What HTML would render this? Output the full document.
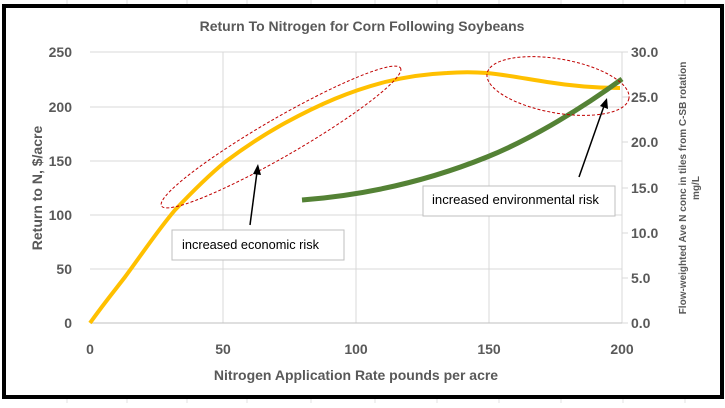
<!DOCTYPE html>
<html><head><style>
body{margin:0;width:725px;height:403px;overflow:hidden;background:#fff;font-family:"Liberation Sans",sans-serif}
</style></head><body>
<svg width="725" height="403" viewBox="0 0 725 403" xmlns="http://www.w3.org/2000/svg">
<g stroke="#e2e2e2" stroke-width="1">
<line x1="67" y1="0" x2="67" y2="403"/><line x1="127" y1="0" x2="127" y2="403"/><line x1="187" y1="0" x2="187" y2="403"/><line x1="247" y1="0" x2="247" y2="403"/><line x1="311" y1="0" x2="311" y2="403"/><line x1="375" y1="0" x2="375" y2="403"/><line x1="437" y1="0" x2="437" y2="403"/><line x1="499" y1="0" x2="499" y2="403"/><line x1="561" y1="0" x2="561" y2="403"/><line x1="623" y1="0" x2="623" y2="403"/><line x1="685" y1="0" x2="685" y2="403"/>
</g>
<rect x="4" y="6" width="718" height="391" fill="#fff" stroke="#000" stroke-width="4"/>
<text x="362" y="31" text-anchor="middle" font-size="14" font-weight="bold" fill="#595959">Return To Nitrogen for Corn Following Soybeans</text>
<g stroke="#d9d9d9" stroke-width="1">
<line x1="90" y1="52" x2="622" y2="52"/><line x1="90" y1="107" x2="622" y2="107"/><line x1="90" y1="161" x2="622" y2="161"/><line x1="90" y1="215" x2="622" y2="215"/><line x1="90" y1="269" x2="622" y2="269"/>
<line x1="223" y1="52" x2="223" y2="323"/><line x1="356" y1="52" x2="356" y2="323"/><line x1="489" y1="52" x2="489" y2="323"/><line x1="622" y1="52" x2="622" y2="323"/>
<line x1="90" y1="323" x2="622" y2="323" stroke="#bfbfbf"/>
<line x1="622" y1="52" x2="628" y2="52"/><line x1="622" y1="97" x2="628" y2="97"/><line x1="622" y1="142" x2="628" y2="142"/><line x1="622" y1="188" x2="628" y2="188"/><line x1="622" y1="233" x2="628" y2="233"/><line x1="622" y1="278" x2="628" y2="278"/><line x1="622" y1="323" x2="628" y2="323"/>
</g>
<g font-size="14" font-weight="bold" fill="#595959" text-anchor="end">
<text x="72" y="57">250</text><text x="72" y="112">200</text><text x="72" y="166">150</text><text x="72" y="220">100</text><text x="72" y="274">50</text><text x="72" y="328">0</text>
</g>
<g font-size="14" font-weight="bold" fill="#595959" text-anchor="start">
<text x="631" y="57">30.0</text><text x="631" y="102">25.0</text><text x="631" y="147">20.0</text><text x="631" y="193">15.0</text><text x="631" y="238">10.0</text><text x="631" y="283">5.0</text><text x="631" y="328">0.0</text>
</g>
<g font-size="14" font-weight="bold" fill="#595959" text-anchor="middle">
<text x="90" y="354">0</text><text x="223" y="354">50</text><text x="356" y="354">100</text><text x="489" y="354">150</text><text x="622" y="354">200</text>
<text x="356" y="380">Nitrogen Application Rate pounds per acre</text>
<text transform="translate(42,188) rotate(-90)">Return to N, $/acre</text>
</g>
<g font-size="10" font-weight="bold" fill="#595959" text-anchor="middle">
<text transform="translate(686,188) rotate(-90)">Flow-weighted Ave N conc in tiles from C-SB rotation</text>
<text transform="translate(699,188) rotate(-90)">mg/L</text>
</g>
<path d="M90,323 C105,302 115,290 125,277 C142,254 158,230 175,210 C192,192 208,176 225,162 C245,147 265,134 285,123 C320,104 350,91 385,82 C405,77 425,74 447,73 C460,72 475,72 487,73 C507,75 527,79 547,82 C572,86 597,88 620,88" fill="none" stroke="#ffc000" stroke-width="4" stroke-linejoin="round"/>
<path d="M302,200 C380,194 440,176 487,157 C534,138 585,106 622,79" fill="none" stroke="#548235" stroke-width="5" stroke-linejoin="round"/>
<ellipse cx="281" cy="137" rx="138" ry="19" transform="rotate(-30 281 137)" fill="none" stroke="#c00000" stroke-dasharray="3,2"/>
<ellipse cx="558" cy="86" rx="72" ry="27" transform="rotate(10 558 86)" fill="none" stroke="#c00000" stroke-dasharray="3,2"/>
<rect x="172" y="230" width="172" height="30" fill="#fff" stroke="#bfbfbf"/>
<text x="182" y="249" font-size="13" fill="#000" textLength="137" lengthAdjust="spacingAndGlyphs">increased economic risk</text>
<rect x="423" y="186" width="192" height="30" fill="#fff" stroke="#bfbfbf"/>
<text x="432" y="204" font-size="13" fill="#000" textLength="167" lengthAdjust="spacingAndGlyphs">increased environmental risk</text>
<line x1="250" y1="225" x2="257" y2="172" stroke="#000" stroke-width="1.5"/>
<polygon points="258,164 253,174 261,175" fill="#000"/>
<line x1="579" y1="177" x2="604" y2="106" stroke="#000" stroke-width="1.5"/>
<polygon points="607,98 600,106 608,109" fill="#000"/>
</svg>
</body></html>
